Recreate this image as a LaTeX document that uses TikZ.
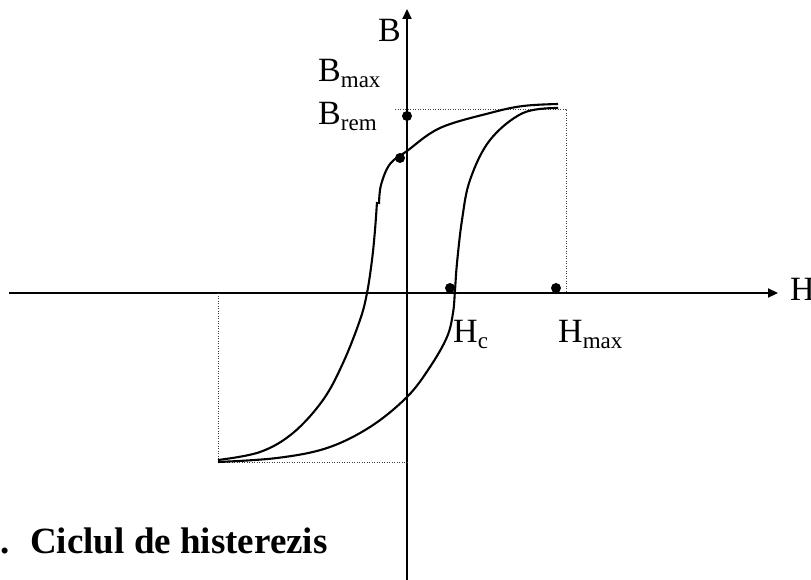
\documentclass[tikz,border=0pt]{standalone}
\usepackage{fontspec}
\setmainfont{Liberation Serif}
\usetikzlibrary{arrows.meta}
\newcommand\subtxt[1]{\raisebox{-6pt}{\fontsize{23}{23}\selectfont #1}}
\begin{document}
\begin{tikzpicture}[x=1pt,y=-1pt,
  axis/.style={line width=2.2pt,-{Triangle[length=10pt,width=9pt]}},
  curve/.style={line width=2.1pt,line join=round},
  guide/.style={line width=0.9pt,dash pattern=on 1pt off 1.5pt,black!75},
  dot/.style={circle,fill=black,inner sep=0pt,minimum size=10pt},
  lab/.style={anchor=base west,inner sep=0pt,font=\fontsize{34}{34}\selectfont},
  captext/.style={anchor=base west,inner sep=0pt,font=\fontsize{37}{37}\selectfont\bfseries}]
\useasboundingbox (0,0) rectangle (811,580);
% axes
\coordinate (hstart) at (9,293);
\coordinate (hend) at (778,293);
\coordinate (vstart) at (407,580);
\coordinate (vend) at (407,9);
\draw[axis] (hstart) -- (hend);
\draw[axis] (vstart) -- (vend);
% guides
\coordinate (gt1) at (395,109);
\coordinate (gt2) at (566,109);
\coordinate (gt3) at (566,293);
\coordinate (gl1) at (218,293);
\coordinate (gl2) at (218,462);
\coordinate (gl3) at (407,462);
\draw[guide] (gt1) -- (gt2) -- (gt3);
\draw[guide] (gl1) -- (gl2) -- (gl3);
% curves
\draw[curve] plot[smooth,tension=0.6] coordinates {(558,104) (523,106) (490,113) (440,128) (407,151) (390,164) (381,185) (379,204)};
\draw[curve] plot[smooth,tension=0.6] coordinates {(377,202) (375,230) (372,260) (367,293) (360,320) (343,363) (323,400) (293,433) (260,452) (218,460)};
\draw[curve] plot[smooth,tension=0.6] coordinates {(218,462) (277,458) (327,448) (370,427) (407,397) (430,367) (447,337) (453,313) (455,290) (457,263) (462,220) (470,180) (490,140) (523,113) (558,108)};
% dots
\node[dot] (brem) at (407,116) {};
\node[dot] (bcross) at (400,158) {};
\node[dot] (hc) at (450,288) {};
\node[dot] (hmax) at (556,288) {};
% labels
\node[lab] (lB) at (378,42) {B};
\node[lab] (lBmax) at (318,82) {B\subtxt{max}};
\node[lab] (lBrem) at (318,125) {B\subtxt{rem}};
\node[lab] (lH) at (790,300) {H};
\node[lab] (lHc) at (453,342) {H\subtxt{c}};
\node[lab] (lHmax) at (558,342) {H\subtxt{max}};
\node[captext] (dotc) at (0,553) {.};
\node[captext] (caption) at (30,553) {Ciclul de histerezis};
\end{tikzpicture}
\end{document}
